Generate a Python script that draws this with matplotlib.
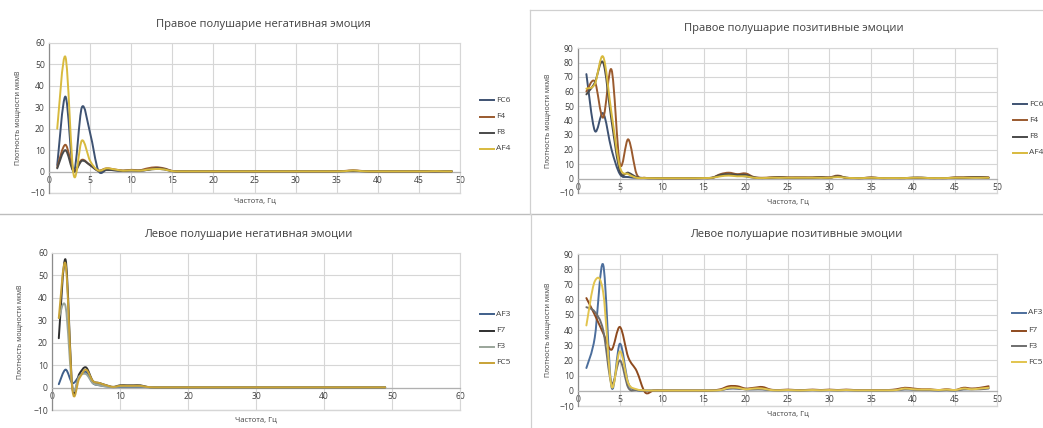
import matplotlib
matplotlib.use("Agg")
import matplotlib.pyplot as plt
from matplotlib.lines import Line2D
from matplotlib.path import Path
from matplotlib.patches import PathPatch
import numpy as np

plt.rcParams['font.family'] = ['Open Sans', 'DejaVu Sans']

W, H = 1043, 428

# ---------------- data (frequency 1..49 Hz) ----------------
titles = ["Правое полушарие негативная эмоция",
          "Правое полушарие позитивные эмоции",
          "Левое полушарие негативная эмоции",
          "Левое полушарие позитивные эмоции"]
xlabel = "Частота, Гц"
ylabel = "Плотность мощности мкмВ"

right_names = ["FC6", "F4", "F8", "AF4"]
left_names = ["AF3", "F7", "F3", "FC5"]

# Panel 1: right hemisphere, negative
p1_fc6 = [3, 35, 0, 30, 18, 0.5, 0.8, 0.6, 0.3, 0.6, 0.4, 0.8, 1.2, 1.0, 0.2,
          0.1, 0.1, 0.1, 0.1, 0.1, 0.1, 0.1, 0.1, 0.1, 0.1, 0.1, 0.1, 0.1, 0.1, 0.1,
          0.1, 0.1, 0.1, 0.1, 0.1, 0.2, 0.4, 0.2, 0.1, 0.1, 0.1, 0.1, 0.1, 0.1, 0.1,
          0.1, 0.1, 0.1, 0.1]
p1_f4 = [2, 12.5, 0.5, 5.5, 3, 0.5, 1.5, 1.0, 0.5, 0.8, 0.6, 1.5, 2.0, 1.5, 0.3,
         0.1, 0.1, 0.1, 0.1, 0.1, 0.1, 0.1, 0.1, 0.1, 0.1, 0.1, 0.1, 0.1, 0.1, 0.1,
         0.1, 0.1, 0.1, 0.1, 0.2, 0.3, 0.6, 0.3, 0.1, 0.1, 0.1, 0.1, 0.1, 0.1, 0.1,
         0.1, 0.1, 0.1, 0.1]
p1_f8 = [1.5, 10, 0, 5, 3, 0.3, 0.8, 0.6, 0.3, 0.5, 0.4, 0.8, 1.5, 1.2, 0.2,
         0.1, 0.1, 0.1, 0.1, 0.1, 0.1, 0.1, 0.1, 0.1, 0.1, 0.1, 0.1, 0.1, 0.1, 0.1,
         0.1, 0.1, 0.1, 0.1, 0.1, 0.2, 0.3, 0.2, 0.1, 0.1, 0.1, 0.1, 0.1, 0.1, 0.1,
         0.1, 0.1, 0.1, 0.1]
p1_af4 = [20, 53.5, -1.5, 14.5, 5, 0.5, 1.5, 1.0, 0.4, 0.6, 0.4, 0.9, 1.2, 1.0, 0.2,
          0.1, 0.1, 0.1, 0.1, 0.1, 0.1, 0.1, 0.1, 0.1, 0.1, 0.1, 0.1, 0.1, 0.1, 0.1,
          0.1, 0.1, 0.1, 0.1, 0.1, 0.2, 0.5, 0.2, 0.1, 0.1, 0.1, 0.1, 0.1, 0.1, 0.1,
          0.1, 0.2, 0.1, 0.1]

# Panel 2: right hemisphere, positive
p2_fc6 = [72, 33, 45, 20, 3, 1, 0.5, 0.3, 0.2, 0.2, 0.2, 0.2, 0.2, 0.2, 0.3,
          0.5, 2.0, 2.5, 2.0, 1.5, 0.5, 0.3, 0.5, 0.8, 0.5, 0.5, 0.5, 0.5, 0.8, 0.5,
          1.5, 0.5, 0.3, 0.3, 0.5, 0.3, 0.3, 0.3, 0.3, 0.5, 0.5, 0.3, 0.3, 0.3, 0.5,
          0.5, 0.8, 0.8, 0.5]
p2_f4 = [60, 67, 42, 75, 10, 27, 3, 0.5, 0.3, 0.2, 0.2, 0.2, 0.2, 0.2, 0.3,
         0.5, 3.0, 4.0, 3.0, 3.5, 1.0, 0.5, 0.8, 1.0, 0.8, 0.8, 0.8, 0.8, 1.0, 0.8,
         2.0, 0.5, 0.3, 0.3, 0.8, 0.3, 0.3, 0.3, 0.3, 0.5, 0.5, 0.3, 0.3, 0.3, 0.8,
         0.8, 1.0, 1.0, 0.8]
p2_f8 = [58, 66, 80, 40, 5, 4, 1, 0.3, 0.2, 0.2, 0.2, 0.2, 0.2, 0.2, 0.3,
         0.5, 2.5, 3.0, 2.5, 2.5, 0.8, 0.3, 0.5, 0.8, 0.5, 0.5, 0.5, 0.5, 0.8, 0.5,
         1.5, 0.5, 0.3, 0.3, 0.5, 0.3, 0.3, 0.3, 0.3, 0.5, 0.5, 0.3, 0.3, 0.3, 0.5,
         0.5, 0.8, 0.8, 0.5]
p2_af4 = [62, 65, 84, 45, 8, 3, 0.5, 0.3, 0.2, 0.2, 0.2, 0.2, 0.2, 0.2, 0.3,
          0.5, 1.5, 2.0, 1.5, 1.5, 0.5, 0.3, 0.5, 0.5, 0.5, 0.5, 0.5, 0.5, 0.5, 0.5,
          1.0, 0.5, 0.3, 0.3, 0.5, 0.3, 0.3, 0.3, 0.3, 0.5, 0.5, 0.3, 0.3, 0.3, 0.5,
          0.5, 0.5, 0.5, 0.5]

# Panel 3: left hemisphere, negative
p3_af3 = [1.5, 8, 2, 5, 7, 2, 1, 0.5, 0.2, 0.3, 0.3, 0.3, 0.3, 0.2, 0.1,
          0.1, 0.1, 0.1, 0.1, 0.1, 0.1, 0.1, 0.1, 0.1, 0.1, 0.1, 0.1, 0.1, 0.1, 0.1,
          0.1, 0.1, 0.1, 0.1, 0.1, 0.1, 0.1, 0.1, 0.1, 0.1, 0.1, 0.1, 0.1, 0.1, 0.1,
          0.1, 0.1, 0.1, 0.1]
p3_f7 = [22, 57, 0, 6, 9, 3, 2, 1, 0.3, 1, 1, 1, 1, 0.3, 0.1,
         0.1, 0.1, 0.1, 0.1, 0.1, 0.1, 0.1, 0.1, 0.1, 0.1, 0.1, 0.1, 0.1, 0.1, 0.1,
         0.1, 0.1, 0.1, 0.1, 0.1, 0.1, 0.1, 0.1, 0.1, 0.1, 0.1, 0.1, 0.1, 0.1, 0.1,
         0.1, 0.1, 0.1, 0.1]
p3_f3 = [31, 36, 0, 5, 6, 2, 1, 0.5, 0.2, 0.5, 0.5, 0.5, 0.5, 0.2, 0.1,
         0.1, 0.1, 0.1, 0.1, 0.1, 0.1, 0.1, 0.1, 0.1, 0.1, 0.1, 0.1, 0.1, 0.1, 0.1,
         0.1, 0.1, 0.1, 0.1, 0.1, 0.1, 0.1, 0.1, 0.1, 0.1, 0.1, 0.1, 0.1, 0.1, 0.1,
         0.1, 0.1, 0.1, 0.1]
p3_fc5 = [31, 55, -1, 4, 8, 3, 2, 1, 0.3, 0.8, 0.8, 0.8, 0.8, 0.3, 0.1,
          0.1, 0.1, 0.1, 0.1, 0.1, 0.1, 0.1, 0.1, 0.1, 0.1, 0.1, 0.1, 0.1, 0.1, 0.1,
          0.1, 0.1, 0.1, 0.1, 0.1, 0.1, 0.1, 0.1, 0.1, 0.1, 0.1, 0.1, 0.1, 0.1, 0.1,
          0.1, 0.1, 0.1, 0.1]

# Panel 4: left hemisphere, positive
p4_af3 = [15, 35, 83, 2.5, 31, 5, 0.5, 0.2, 0.2, 0.2, 0.2, 0.2, 0.2, 0.2, 0.2,
          0.2, 0.5, 1.5, 1.5, 1.0, 1.0, 1.0, 0.5, 0.3, 0.5, 0.3, 0.3, 0.5, 0.3, 0.5,
          0.3, 0.5, 0.3, 0.3, 0.3, 0.3, 0.3, 0.5, 1.0, 0.8, 0.5, 0.5, 0.3, 0.5, 0.3,
          1.0, 1.0, 1.5, 2.0]
p4_f7 = [61, 50, 38, 27, 42, 22, 13, -1, 0.2, 0.2, 0.2, 0.2, 0.2, 0.2, 0.2,
         0.3, 1.0, 3.0, 3.0, 1.5, 2.0, 2.5, 0.8, 0.5, 0.8, 0.5, 0.5, 0.8, 0.5, 0.8,
         0.5, 0.8, 0.5, 0.5, 0.5, 0.5, 0.5, 1.0, 2.0, 1.5, 1.0, 1.0, 0.5, 1.0, 0.5,
         2.0, 1.5, 2.0, 3.0]
p4_f3 = [55, 52, 40, 5, 20, 2, 0.5, 0.2, 0.2, 0.2, 0.2, 0.2, 0.2, 0.2, 0.2,
         0.2, 0.5, 1.5, 1.5, 1.0, 1.0, 1.0, 0.5, 0.3, 0.5, 0.3, 0.3, 0.5, 0.3, 0.5,
         0.3, 0.5, 0.3, 0.3, 0.3, 0.3, 0.3, 0.5, 1.0, 0.8, 0.5, 0.5, 0.3, 0.5, 0.3,
         1.0, 1.0, 1.0, 1.5]
p4_fc5 = [43, 72, 65, 3, 26, 5, 1, 0.3, 0.2, 0.2, 0.2, 0.2, 0.2, 0.2, 0.2,
          0.2, 0.5, 2.0, 2.0, 1.0, 1.5, 1.5, 0.5, 0.3, 0.5, 0.3, 0.3, 0.5, 0.3, 0.5,
          0.3, 0.5, 0.3, 0.3, 0.3, 0.3, 0.3, 0.5, 1.5, 1.0, 0.8, 0.8, 0.5, 0.8, 0.5,
          1.5, 1.0, 1.5, 2.0]

right_colors = ['#3E5272', '#9A5A2E', '#4A4A4A', '#D8BA3E']
left_colors3 = ['#3F5F8A', '#2F2F2F', '#9AA59A', '#C8A236']
left_colors4 = ['#4C6E9C', '#8E4A1E', '#6E6E6E', '#E2C44E']

panels = [
    dict(series=[p1_fc6, p1_f4, p1_f8, p1_af4], names=right_names, colors=right_colors,
         rect=(49, 43, 460, 193), xlim=(0, 50), xstep=5, ylim=(-10, 60), ystep=10,
         title=titles[0], title_xy=(263, 25), xlabel_y=201, ylab_x=18,
         leg_x=480, leg_y=[100, 117, 133, 149]),
    dict(series=[p2_fc6, p2_f4, p2_f8, p2_af4], names=right_names, colors=right_colors,
         rect=(578, 48, 997, 193), xlim=(0, 50), xstep=5, ylim=(-10, 90), ystep=10,
         title=titles[1], title_xy=(794, 28), xlabel_y=202, ylab_x=548,
         leg_x=1013, leg_y=[104, 120, 137, 153]),
    dict(series=[p3_af3, p3_f7, p3_f3, p3_fc5], names=left_names, colors=left_colors3,
         rect=(52, 253, 460, 410), xlim=(0, 60), xstep=10, ylim=(-10, 60), ystep=10,
         title=titles[2], title_xy=(248, 235), xlabel_y=420, ylab_x=20,
         leg_x=480, leg_y=[314, 331, 347, 363]),
    dict(series=[p4_af3, p4_f7, p4_f3, p4_fc5], names=left_names, colors=left_colors4,
         rect=(578, 254, 997, 406), xlim=(0, 50), xstep=5, ylim=(-10, 90), ystep=10,
         title=titles[3], title_xy=(796, 235), xlabel_y=414, ylab_x=548,
         leg_x=1012, leg_y=[313, 331, 346, 362]),
]

fig = plt.figure(figsize=(W / 100, H / 100), dpi=100)
fig.patch.set_facecolor('white')


def fx(px):
    return px / W


def fy(py):
    return 1 - py / H


def smooth_path(xs, ys):
    """Excel-like smoothed line: cubic Bezier segments (Catmull-Rom tangents)."""
    pts = np.column_stack([xs, ys]).astype(float)
    n = len(pts)
    verts = [pts[0]]
    codes = [Path.MOVETO]
    for i in range(n - 1):
        p0 = pts[i - 1] if i > 0 else pts[i]
        p1 = pts[i]
        p2 = pts[i + 1]
        p3 = pts[i + 2] if i + 2 < n else pts[i + 1]
        c1 = p1 + (p2 - p0) / 6.0
        c2 = p2 - (p3 - p1) / 6.0
        verts += [c1, c2, p2]
        codes += [Path.CURVE4, Path.CURVE4, Path.CURVE4]
    return Path(verts, codes)


for p in panels:
    x0, y0, x1, y1 = p['rect']
    ax = fig.add_axes([fx(x0), fy(y1), fx(x1 - x0), (y1 - y0) / H])
    for s, c, n in zip(p['series'], p['colors'], p['names']):
        xs = np.arange(1, len(s) + 1)
        patch = PathPatch(smooth_path(xs, s), facecolor='none', edgecolor=c,
                          lw=1.4, joinstyle='round', capstyle='round', zorder=3)
        ax.add_patch(patch)
    ax.set_xlim(*p['xlim'])
    ax.set_ylim(*p['ylim'])
    ax.set_xticks(np.arange(p['xlim'][0], p['xlim'][1] + 0.1, p['xstep']))
    ax.set_yticks(np.arange(p['ylim'][0], p['ylim'][1] + 0.1, p['ystep']))
    ax.grid(True, color='#D6D6D6', lw=0.8)
    ax.set_axisbelow(True)
    ax.spines['bottom'].set_position(('data', 0))
    ax.spines['bottom'].set_color('#B0B0B0')
    ax.spines['bottom'].set_linewidth(0.9)
    for side in ['top', 'right']:
        ax.spines[side].set_color('#D6D6D6')
        ax.spines[side].set_linewidth(0.8)
    ax.axhline(p['ylim'][0], color='#D6D6D6', lw=1.0, zorder=0, clip_on=False)
    ax.spines['left'].set_color('#8C8C8C')
    ax.spines['left'].set_linewidth(0.9)
    ax.tick_params(axis='both', labelsize=6.2, colors='#404040', length=0, pad=3)
    fig.text(fx(p['title_xy'][0]), fy(p['title_xy'][1]), p['title'], ha='center',
             va='center', fontsize=8, color='#404040')
    fig.text(fx((x0 + x1) / 2), fy(p['xlabel_y']), xlabel, ha='center', va='center',
             fontsize=5.5, color='#404040')
    fig.text(fx(p['ylab_x']), fy((y0 + y1) / 2), ylabel, ha='center', va='center',
             rotation=90, fontsize=5, color='#404040')
    for ly, c, n in zip(p['leg_y'], p['colors'], p['names']):
        fig.add_artist(Line2D([fx(p['leg_x']), fx(p['leg_x'] + 14)], [fy(ly), fy(ly)],
                              color=c, lw=1.4))
        fig.text(fx(p['leg_x'] + 16), fy(ly), n, ha='left', va='center',
                 fontsize=6, color='#404040')

# separators / chart frames
fig.add_artist(Line2D([0, 1], [fy(214), fy(214)], color='#BDBDBD', lw=1.0))
fig.add_artist(Line2D([fx(530), fx(530)], [fy(10), fy(214)], color='#D0D0D0', lw=0.9))
fig.add_artist(Line2D([fx(530), 1], [fy(10), fy(10)], color='#D0D0D0', lw=0.9))
fig.add_artist(Line2D([fx(531), fx(531)], [fy(214), 0], color='#D0D0D0', lw=0.9))

fig.savefig('out.png', dpi=100, facecolor='white')
